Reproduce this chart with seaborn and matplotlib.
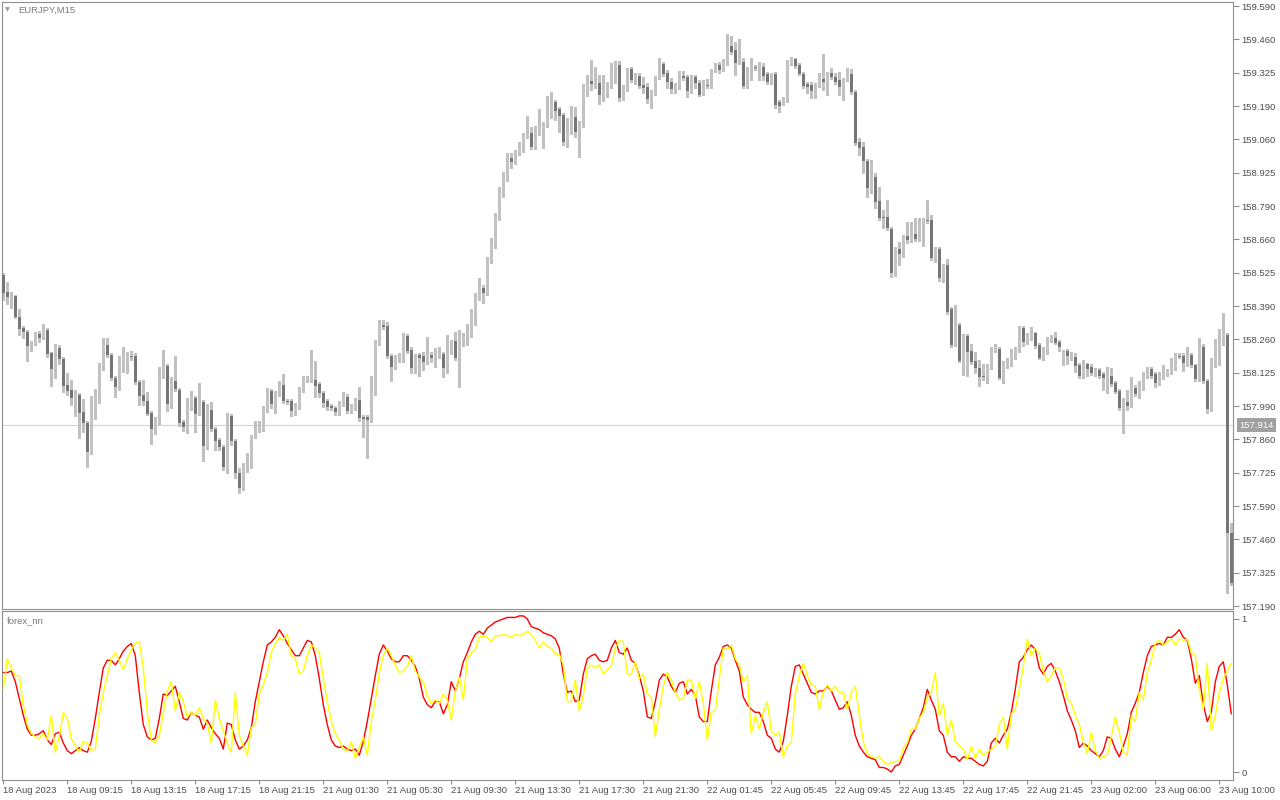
import numpy as np
import pandas as pd
import matplotlib
matplotlib.use("Agg")
import matplotlib.pyplot as plt
import matplotlib.transforms as mtransforms
import seaborn as sns

# ---------------- data ----------------
symbol_title = "EURJPY,M15"
indicator_title = "forex_nn"
last_price = 157.914

price_tick_labels = ["159.590", "159.460", "159.325", "159.190", "159.060", "158.925",
                     "158.790", "158.660", "158.525", "158.390", "158.260", "158.125",
                     "157.990", "157.860", "157.725", "157.590", "157.460", "157.325",
                     "157.190"]
indicator_tick_values = [1, 0]
indicator_tick_labels = ["1", "0"]
time_labels = ["18 Aug 2023", "18 Aug 09:15", "18 Aug 13:15", "18 Aug 17:15", "18 Aug 21:15",
               "21 Aug 01:30", "21 Aug 05:30", "21 Aug 09:30", "21 Aug 13:30", "21 Aug 17:30",
               "21 Aug 21:30", "22 Aug 01:45", "22 Aug 05:45", "22 Aug 09:45", "22 Aug 13:45",
               "22 Aug 17:45", "22 Aug 21:45", "23 Aug 02:00", "23 Aug 06:00", "23 Aug 10:00"]
bars_per_label = 16

opens = [
    158.514, 158.446, 158.426, 158.430, 158.346, 158.302, 158.286, 158.234, 158.238, 158.278,
    158.262, 158.294, 158.202, 158.134, 158.222, 158.178, 158.074, 158.054, 158.022, 158.034,
    157.966, 157.922, 157.806, 157.966, 158.006, 158.146, 158.234, 158.194, 158.102, 158.066,
    158.158, 158.186, 158.190, 158.190, 158.086, 158.034, 158.010, 157.962, 157.902, 157.922,
    158.106, 158.150, 157.998, 158.090, 158.054, 157.926, 157.906, 157.978, 158.022, 157.958,
    158.006, 157.826, 157.974, 157.898, 157.854, 157.826, 157.746, 157.950, 157.850, 157.722,
    157.662, 157.754, 157.754, 157.870, 157.894, 157.898, 157.974, 158.050, 157.998, 158.038,
    158.074, 158.010, 158.010, 157.970, 157.986, 158.054, 158.094, 158.094, 158.094, 158.078,
    158.042, 158.010, 157.990, 157.982, 157.966, 157.998, 158.026, 157.970, 157.986, 158.014,
    157.946, 157.946, 157.934, 158.042, 158.242, 158.314, 158.310, 158.190, 158.146, 158.182,
    158.182, 158.270, 158.214, 158.142, 158.194, 158.190, 158.166, 158.194, 158.182, 158.190,
    158.198, 158.142, 158.206, 158.250, 158.182, 158.246, 158.266, 158.278, 158.362, 158.422,
    158.462, 158.442, 158.574, 158.638, 158.738, 158.846, 158.898, 158.982, 158.966, 159.002,
    159.034, 159.070, 159.082, 159.026, 159.082, 159.102, 159.114, 159.150, 159.206, 159.178,
    159.154, 159.046, 159.086, 159.146, 159.086, 159.122, 159.258, 159.290, 159.270, 159.282,
    159.238, 159.246, 159.270, 159.346, 159.354, 159.222, 159.258, 159.338, 159.294, 159.310,
    159.274, 159.266, 159.218, 159.242, 159.306, 159.358, 159.322, 159.286, 159.258, 159.266,
    159.310, 159.306, 159.250, 159.306, 159.282, 159.242, 159.274, 159.270, 159.334, 159.354,
    159.338, 159.362, 159.430, 159.414, 159.362, 159.366, 159.270, 159.322, 159.346, 159.342,
    159.346, 159.318, 159.286, 159.318, 159.206, 159.202, 159.214, 159.362, 159.378, 159.354,
    159.318, 159.278, 159.274, 159.250, 159.274, 159.298, 159.286, 159.322, 159.306, 159.294,
    159.266, 159.294, 159.318, 159.246, 159.046, 159.026, 158.970, 158.854, 158.906, 158.810,
    158.746, 158.746, 158.698, 158.522, 158.618, 158.598, 158.670, 158.654, 158.678, 158.658,
    158.718, 158.734, 158.734, 158.582, 158.618, 158.502, 158.554, 158.378, 158.238, 158.314,
    158.170, 158.270, 158.210, 158.170, 158.142, 158.110, 158.106, 158.146, 158.210, 158.218,
    158.106, 158.150, 158.166, 158.202, 158.214, 158.302, 158.246, 158.270, 158.282, 158.234,
    158.182, 158.206, 158.254, 158.262, 158.246, 158.182, 158.210, 158.190, 158.186, 158.154,
    158.110, 158.158, 158.146, 158.118, 158.134, 158.118, 158.102, 158.110, 158.082, 158.050,
    157.978, 158.006, 157.998, 158.062, 158.034, 158.062, 158.110, 158.138, 158.118, 158.082,
    158.106, 158.118, 158.126, 158.142, 158.190, 158.190, 158.158, 158.194, 158.154, 158.098,
    158.226, 158.090, 157.978, 158.166, 158.226, 158.242, 158.274, 157.482]

highs = [
    158.522, 158.486, 158.446, 158.434, 158.378, 158.310, 158.294, 158.250, 158.286, 158.290,
    158.318, 158.302, 158.206, 158.238, 158.234, 158.186, 158.122, 158.094, 158.054, 158.042,
    158.018, 157.930, 158.030, 158.058, 158.162, 158.262, 158.262, 158.202, 158.110, 158.190,
    158.226, 158.206, 158.210, 158.202, 158.094, 158.094, 158.046, 157.970, 157.946, 158.146,
    158.214, 158.158, 158.106, 158.190, 158.062, 157.934, 158.022, 158.050, 158.030, 158.082,
    158.014, 157.998, 158.006, 157.906, 157.862, 157.834, 157.962, 157.958, 157.858, 157.742,
    157.762, 157.802, 157.874, 157.930, 157.930, 157.990, 158.062, 158.058, 158.050, 158.090,
    158.118, 158.018, 158.018, 158.002, 158.066, 158.110, 158.110, 158.214, 158.170, 158.086,
    158.050, 158.018, 157.998, 157.990, 158.010, 158.046, 158.038, 157.998, 158.022, 158.066,
    157.954, 157.954, 158.110, 158.254, 158.334, 158.334, 158.326, 158.198, 158.194, 158.202,
    158.282, 158.278, 158.226, 158.198, 158.202, 158.206, 158.266, 158.206, 158.222, 158.226,
    158.206, 158.274, 158.254, 158.286, 158.294, 158.282, 158.318, 158.378, 158.442, 158.502,
    158.474, 158.586, 158.662, 158.762, 158.866, 158.926, 159.002, 159.002, 159.014, 159.046,
    159.082, 159.150, 159.106, 159.110, 159.178, 159.126, 159.230, 159.246, 159.214, 159.186,
    159.162, 159.142, 159.190, 159.186, 159.130, 159.278, 159.314, 159.374, 159.346, 159.314,
    159.314, 159.286, 159.362, 159.370, 159.370, 159.274, 159.342, 159.346, 159.322, 159.322,
    159.306, 159.282, 159.254, 159.310, 159.382, 159.366, 159.334, 159.302, 159.282, 159.330,
    159.330, 159.314, 159.314, 159.314, 159.294, 159.294, 159.298, 159.338, 159.362, 159.366,
    159.378, 159.478, 159.470, 159.446, 159.458, 159.382, 159.346, 159.382, 159.354, 159.366,
    159.362, 159.326, 159.322, 159.326, 159.214, 159.226, 159.374, 159.386, 159.382, 159.362,
    159.326, 159.286, 159.286, 159.282, 159.322, 159.398, 159.326, 159.342, 159.322, 159.326,
    159.302, 159.342, 159.338, 159.254, 159.062, 159.046, 158.978, 158.974, 158.922, 158.866,
    158.774, 158.814, 158.706, 158.626, 158.646, 158.674, 158.726, 158.726, 158.742, 158.742,
    158.742, 158.814, 158.754, 158.626, 158.626, 158.558, 158.578, 158.386, 158.394, 158.322,
    158.278, 158.278, 158.238, 158.206, 158.174, 158.158, 158.158, 158.226, 158.238, 158.226,
    158.170, 158.182, 158.218, 158.226, 158.310, 158.310, 158.282, 158.306, 158.286, 158.242,
    158.226, 158.266, 158.274, 158.286, 158.254, 158.214, 158.218, 158.206, 158.202, 158.162,
    158.174, 158.162, 158.158, 158.142, 158.142, 158.126, 158.146, 158.142, 158.090, 158.058,
    158.022, 158.054, 158.106, 158.074, 158.090, 158.126, 158.146, 158.146, 158.126, 158.126,
    158.154, 158.138, 158.182, 158.202, 158.202, 158.202, 158.226, 158.202, 158.158, 158.262,
    158.238, 158.098, 158.182, 158.258, 158.298, 158.362, 158.282, 157.522]

lows = [
    158.414, 158.398, 158.382, 158.342, 158.274, 158.262, 158.170, 158.210, 158.234, 158.246,
    158.258, 158.186, 158.070, 158.102, 158.158, 158.046, 158.034, 157.994, 157.950, 157.862,
    157.886, 157.746, 157.798, 157.938, 158.002, 158.134, 158.186, 158.094, 158.026, 158.054,
    158.126, 158.122, 158.174, 158.078, 157.994, 157.994, 157.954, 157.838, 157.878, 157.918,
    158.102, 157.970, 157.982, 158.050, 157.910, 157.890, 157.882, 157.974, 157.886, 157.954,
    157.770, 157.818, 157.890, 157.814, 157.814, 157.734, 157.722, 157.834, 157.702, 157.642,
    157.654, 157.726, 157.742, 157.862, 157.886, 157.890, 157.966, 157.982, 157.962, 158.030,
    158.002, 157.998, 157.950, 157.954, 157.978, 158.046, 158.086, 158.086, 158.026, 158.026,
    157.986, 157.974, 157.974, 157.954, 157.954, 157.990, 157.962, 157.962, 157.974, 157.930,
    157.866, 157.782, 157.926, 158.034, 158.234, 158.298, 158.182, 158.090, 158.138, 158.166,
    158.166, 158.202, 158.122, 158.122, 158.110, 158.134, 158.158, 158.166, 158.146, 158.182,
    158.106, 158.122, 158.198, 158.174, 158.066, 158.230, 158.234, 158.266, 158.314, 158.414,
    158.402, 158.434, 158.562, 158.622, 158.734, 158.826, 158.890, 158.942, 158.958, 158.994,
    159.006, 159.062, 159.018, 159.018, 159.074, 159.022, 159.106, 159.142, 159.134, 159.086,
    159.034, 159.026, 159.078, 159.066, 158.986, 159.106, 159.230, 159.254, 159.262, 159.198,
    159.210, 159.226, 159.262, 159.282, 159.210, 159.214, 159.250, 159.286, 159.278, 159.262,
    159.242, 159.202, 159.182, 159.234, 159.298, 159.310, 159.262, 159.242, 159.242, 159.258,
    159.294, 159.226, 159.242, 159.262, 159.230, 159.234, 159.262, 159.262, 159.326, 159.322,
    159.330, 159.354, 159.398, 159.314, 159.358, 159.262, 159.262, 159.294, 159.334, 159.294,
    159.294, 159.278, 159.278, 159.182, 159.166, 159.194, 159.206, 159.354, 159.342, 159.314,
    159.262, 159.242, 159.222, 159.222, 159.266, 159.254, 159.234, 159.298, 159.278, 159.234,
    159.214, 159.290, 159.238, 159.034, 158.994, 158.922, 158.826, 158.842, 158.782, 158.734,
    158.702, 158.694, 158.506, 158.510, 158.554, 158.586, 158.642, 158.646, 158.650, 158.650,
    158.630, 158.722, 158.574, 158.566, 158.490, 158.486, 158.358, 158.226, 158.230, 158.166,
    158.114, 158.110, 158.158, 158.122, 158.070, 158.094, 158.082, 158.138, 158.206, 158.098,
    158.082, 158.142, 158.150, 158.178, 158.206, 158.230, 158.238, 158.254, 158.222, 158.178,
    158.174, 158.198, 158.246, 158.238, 158.210, 158.154, 158.158, 158.174, 158.126, 158.102,
    158.102, 158.110, 158.114, 158.110, 158.102, 158.054, 158.042, 158.070, 158.042, 157.974,
    157.882, 157.974, 157.986, 158.030, 158.022, 158.054, 158.102, 158.102, 158.066, 158.074,
    158.098, 158.110, 158.118, 158.134, 158.182, 158.130, 158.150, 158.146, 158.090, 158.090,
    158.082, 157.962, 157.970, 158.146, 158.154, 158.234, 157.242, 157.274]

closes = [
    158.442, 158.426, 158.430, 158.346, 158.298, 158.286, 158.230, 158.238, 158.278, 158.262,
    158.294, 158.198, 158.138, 158.226, 158.178, 158.070, 158.050, 158.022, 158.038, 157.962,
    157.922, 157.806, 157.974, 158.010, 158.150, 158.230, 158.194, 158.102, 158.066, 158.162,
    158.190, 158.190, 158.186, 158.086, 158.030, 158.010, 157.958, 157.898, 157.926, 158.106,
    158.150, 157.998, 158.090, 158.058, 157.922, 157.906, 157.982, 158.022, 157.958, 158.006,
    157.830, 157.970, 157.898, 157.850, 157.826, 157.746, 157.950, 157.850, 157.722, 157.662,
    157.754, 157.758, 157.870, 157.898, 157.906, 157.982, 158.046, 157.998, 158.042, 158.074,
    158.010, 158.006, 157.970, 157.986, 158.058, 158.098, 158.102, 158.158, 158.070, 158.042,
    158.002, 157.986, 157.982, 157.966, 157.998, 158.034, 157.970, 157.990, 158.014, 157.942,
    157.938, 157.934, 158.046, 158.242, 158.314, 158.306, 158.190, 158.146, 158.186, 158.186,
    158.270, 158.210, 158.142, 158.190, 158.182, 158.166, 158.194, 158.182, 158.194, 158.198,
    158.142, 158.206, 158.246, 158.182, 158.246, 158.266, 158.278, 158.366, 158.426, 158.462,
    158.442, 158.574, 158.638, 158.742, 158.850, 158.902, 158.982, 158.966, 159.006, 159.038,
    159.074, 159.082, 159.026, 159.086, 159.106, 159.118, 159.158, 159.206, 159.170, 159.150,
    159.046, 159.086, 159.150, 159.086, 159.122, 159.262, 159.286, 159.278, 159.282, 159.234,
    159.250, 159.274, 159.346, 159.354, 159.222, 159.262, 159.338, 159.294, 159.310, 159.270,
    159.262, 159.218, 159.246, 159.306, 159.362, 159.318, 159.286, 159.258, 159.274, 159.326,
    159.302, 159.250, 159.306, 159.282, 159.234, 159.274, 159.270, 159.338, 159.354, 159.334,
    159.366, 159.438, 159.406, 159.362, 159.366, 159.270, 159.326, 159.342, 159.342, 159.350,
    159.310, 159.286, 159.318, 159.194, 159.190, 159.214, 159.362, 159.378, 159.350, 159.318,
    159.270, 159.266, 159.250, 159.274, 159.302, 159.286, 159.318, 159.306, 159.286, 159.266,
    159.294, 159.322, 159.246, 159.042, 159.022, 158.970, 158.862, 158.906, 158.806, 158.742,
    158.742, 158.702, 158.522, 158.618, 158.598, 158.666, 158.654, 158.682, 158.658, 158.718,
    158.734, 158.730, 158.582, 158.618, 158.502, 158.554, 158.366, 158.234, 158.310, 158.170,
    158.270, 158.206, 158.166, 158.142, 158.106, 158.106, 158.146, 158.214, 158.218, 158.102,
    158.162, 158.170, 158.206, 158.214, 158.302, 158.246, 158.274, 158.282, 158.230, 158.182,
    158.210, 158.258, 158.266, 158.242, 158.226, 158.206, 158.190, 158.194, 158.150, 158.110,
    158.158, 158.138, 158.122, 158.134, 158.110, 158.102, 158.114, 158.078, 158.046, 157.982,
    158.002, 157.990, 158.062, 158.038, 158.066, 158.110, 158.138, 158.110, 158.082, 158.114,
    158.118, 158.130, 158.146, 158.190, 158.186, 158.162, 158.190, 158.154, 158.098, 158.226,
    158.090, 157.978, 158.166, 158.230, 158.242, 158.278, 157.482, 157.282]

nn_red = [
    0.65, 0.65, 0.66, 0.59, 0.48, 0.37, 0.28, 0.24, 0.24, 0.25,
    0.27, 0.21, 0.18, 0.25, 0.26, 0.19, 0.14, 0.12, 0.14, 0.16,
    0.14, 0.13, 0.20, 0.35, 0.52, 0.68, 0.73, 0.73, 0.70, 0.74,
    0.79, 0.82, 0.84, 0.76, 0.52, 0.31, 0.23, 0.21, 0.22, 0.35,
    0.51, 0.50, 0.53, 0.56, 0.46, 0.35, 0.34, 0.39, 0.37, 0.36,
    0.28, 0.34, 0.29, 0.25, 0.22, 0.15, 0.32, 0.31, 0.21, 0.15,
    0.17, 0.21, 0.29, 0.46, 0.59, 0.72, 0.83, 0.85, 0.88, 0.93,
    0.89, 0.84, 0.80, 0.76, 0.76, 0.81, 0.86, 0.85, 0.76, 0.61,
    0.44, 0.31, 0.21, 0.17, 0.16, 0.17, 0.15, 0.14, 0.15, 0.11,
    0.20, 0.33, 0.48, 0.63, 0.77, 0.83, 0.79, 0.74, 0.72, 0.72,
    0.76, 0.76, 0.73, 0.69, 0.61, 0.49, 0.44, 0.42, 0.46, 0.46,
    0.38, 0.44, 0.59, 0.53, 0.61, 0.72, 0.78, 0.85, 0.90, 0.92,
    0.90, 0.94, 0.96, 0.98, 0.99, 1.00, 1.01, 1.01, 1.01, 1.02,
    1.02, 1.00, 0.95, 0.94, 0.93, 0.91, 0.90, 0.89, 0.87, 0.81,
    0.64, 0.52, 0.53, 0.46, 0.47, 0.64, 0.74, 0.76, 0.77, 0.73,
    0.72, 0.73, 0.81, 0.86, 0.78, 0.77, 0.81, 0.73, 0.71, 0.63,
    0.53, 0.36, 0.35, 0.46, 0.60, 0.64, 0.62, 0.56, 0.52, 0.58,
    0.59, 0.51, 0.54, 0.50, 0.36, 0.33, 0.33, 0.53, 0.70, 0.75,
    0.82, 0.83, 0.81, 0.73, 0.66, 0.49, 0.44, 0.41, 0.39, 0.39,
    0.33, 0.24, 0.22, 0.15, 0.13, 0.20, 0.37, 0.56, 0.69, 0.70,
    0.64, 0.58, 0.52, 0.51, 0.53, 0.53, 0.56, 0.53, 0.47, 0.41,
    0.42, 0.46, 0.37, 0.24, 0.17, 0.13, 0.10, 0.09, 0.08, 0.03,
    0.03, 0.02, 0.00, 0.04, 0.05, 0.11, 0.17, 0.24, 0.28, 0.35,
    0.42, 0.54, 0.47, 0.41, 0.27, 0.24, 0.13, 0.10, 0.10, 0.07,
    0.10, 0.09, 0.09, 0.07, 0.05, 0.04, 0.07, 0.19, 0.22, 0.19,
    0.24, 0.28, 0.39, 0.54, 0.72, 0.75, 0.80, 0.83, 0.80, 0.68,
    0.64, 0.69, 0.71, 0.66, 0.59, 0.50, 0.40, 0.34, 0.27, 0.16,
    0.19, 0.17, 0.14, 0.12, 0.10, 0.14, 0.23, 0.22, 0.15, 0.10,
    0.17, 0.25, 0.39, 0.45, 0.52, 0.65, 0.76, 0.82, 0.83, 0.84,
    0.83, 0.88, 0.88, 0.90, 0.93, 0.88, 0.86, 0.74, 0.58, 0.63,
    0.44, 0.33, 0.39, 0.59, 0.69, 0.72, 0.57, 0.38]

nn_yellow = [
    0.54, 0.74, 0.68, 0.63, 0.63, 0.44, 0.31, 0.25, 0.23, 0.22,
    0.25, 0.21, 0.37, 0.13, 0.23, 0.39, 0.35, 0.22, 0.17, 0.13,
    0.20, 0.19, 0.14, 0.15, 0.37, 0.52, 0.63, 0.74, 0.78, 0.73,
    0.67, 0.74, 0.80, 0.84, 0.85, 0.68, 0.39, 0.21, 0.19, 0.24,
    0.39, 0.53, 0.59, 0.40, 0.52, 0.46, 0.36, 0.39, 0.37, 0.42,
    0.35, 0.32, 0.19, 0.47, 0.35, 0.27, 0.19, 0.13, 0.52, 0.24,
    0.17, 0.11, 0.29, 0.31, 0.51, 0.57, 0.65, 0.78, 0.84, 0.88,
    0.86, 0.90, 0.76, 0.74, 0.64, 0.66, 0.76, 0.83, 0.81, 0.78,
    0.61, 0.46, 0.33, 0.25, 0.21, 0.15, 0.14, 0.20, 0.09, 0.16,
    0.23, 0.11, 0.33, 0.47, 0.65, 0.76, 0.81, 0.76, 0.70, 0.65,
    0.66, 0.69, 0.76, 0.66, 0.62, 0.59, 0.50, 0.45, 0.47, 0.45,
    0.51, 0.47, 0.34, 0.53, 0.62, 0.47, 0.74, 0.78, 0.80, 0.88,
    0.89, 0.88, 0.85, 0.89, 0.89, 0.90, 0.89, 0.88, 0.90, 0.89,
    0.90, 0.92, 0.90, 0.86, 0.81, 0.85, 0.82, 0.81, 0.77, 0.77,
    0.70, 0.46, 0.46, 0.60, 0.40, 0.50, 0.68, 0.70, 0.68, 0.70,
    0.64, 0.67, 0.69, 0.81, 0.86, 0.85, 0.64, 0.64, 0.72, 0.61,
    0.64, 0.51, 0.49, 0.23, 0.41, 0.56, 0.65, 0.60, 0.52, 0.47,
    0.48, 0.60, 0.60, 0.48, 0.59, 0.45, 0.21, 0.39, 0.40, 0.61,
    0.81, 0.80, 0.83, 0.74, 0.70, 0.59, 0.63, 0.25, 0.37, 0.28,
    0.39, 0.46, 0.27, 0.24, 0.26, 0.10, 0.17, 0.19, 0.51, 0.63,
    0.71, 0.63, 0.57, 0.56, 0.41, 0.52, 0.57, 0.53, 0.56, 0.52,
    0.52, 0.41, 0.52, 0.56, 0.37, 0.20, 0.12, 0.10, 0.09, 0.10,
    0.07, 0.05, 0.06, 0.07, 0.07, 0.16, 0.19, 0.28, 0.28, 0.35,
    0.39, 0.49, 0.52, 0.65, 0.37, 0.45, 0.24, 0.34, 0.20, 0.17,
    0.15, 0.08, 0.17, 0.09, 0.15, 0.11, 0.13, 0.15, 0.17, 0.31,
    0.36, 0.15, 0.38, 0.41, 0.54, 0.69, 0.87, 0.76, 0.81, 0.78,
    0.66, 0.59, 0.63, 0.68, 0.68, 0.61, 0.48, 0.45, 0.37, 0.31,
    0.20, 0.12, 0.26, 0.14, 0.09, 0.10, 0.11, 0.23, 0.36, 0.26,
    0.13, 0.11, 0.37, 0.33, 0.52, 0.47, 0.65, 0.73, 0.84, 0.86,
    0.83, 0.85, 0.87, 0.83, 0.87, 0.86, 0.87, 0.78, 0.76, 0.54,
    0.41, 0.71, 0.27, 0.37, 0.52, 0.61, 0.66, 0.71]

# ---------------- styling ----------------
sns.set_theme(style="white")
plt.rcParams['font.family'] = ['Liberation Sans', 'DejaVu Sans']

BULL = "#c3c3c3"
BEAR = "#767676"
WICK = "#c0c0c0"
SPINE = "#8f8f8f"
LABEL = "#4d4d4d"
TITLE = "#7a7a7a"
FS = 6.8

W, H = 1280, 800
fig = plt.figure(figsize=(W / 100, H / 100), dpi=100)
fig.patch.set_facecolor("white")


def px_rect(x0, y0, x1, y1):
    return [x0 / W, 1 - y1 / H, (x1 - x0) / W, (y1 - y0) / H]


ax = fig.add_axes(px_rect(2, 2, 1233, 609))
ax2 = fig.add_axes(px_rect(2, 611, 1233, 780))

o = np.array(opens)
h = np.array(highs)
l = np.array(lows)
c = np.array(closes)
n = len(c)
xb = np.arange(n)
bull = c >= o
lo = np.minimum(o, c)
ht = np.maximum(np.abs(c - o), 0.004)

xlim = (-0.325, n - 1 + 0.425)

# candles
ax.vlines(xb, l, h, colors=WICK, linewidth=0.8, antialiased=False, zorder=2)
ax.bar(xb[bull], ht[bull], bottom=lo[bull], width=0.8, color=BULL,
       linewidth=0, antialiased=False, zorder=3)
ax.bar(xb[~bull], ht[~bull], bottom=lo[~bull], width=0.8, color=BEAR,
       linewidth=0, antialiased=False, zorder=3)
ax.axhline(last_price, color="#d4d4d4", linewidth=0.8, zorder=1)

ax.set_xlim(*xlim)
ax.set_ylim(157.178, 159.606)
ax.set_facecolor("white")
ax.yaxis.tick_right()
ax.set_yticks(np.linspace(159.590, 157.190, len(price_tick_labels)))
ax.set_yticklabels(price_tick_labels)
ax.set_xticks([])
ax.tick_params(axis="y", which="major", direction="out", length=4, width=0.8,
               color=SPINE, pad=2, labelsize=FS, labelcolor=LABEL, right=True, left=False)
for s in ax.spines.values():
    s.set_color(SPINE)
    s.set_linewidth(0.8)

trans = mtransforms.blended_transform_factory(ax.transAxes, ax.transData)
ax.annotate(f"{last_price:.3f}", xy=(1, last_price), xycoords=trans,
            xytext=(6, 0), textcoords="offset pixels", ha="left", va="center",
            fontsize=FS, color="white", annotation_clip=False,
            bbox=dict(boxstyle="square,pad=0.25", fc="#a0a0a0", ec="none"))

# indicator panel
ind = pd.DataFrame({"bar": xb, "red": nn_red, "yellow": nn_yellow})
sns.lineplot(data=ind, x="bar", y="red", ax=ax2, color="#ff0000", linewidth=1.0, zorder=3)
sns.lineplot(data=ind, x="bar", y="yellow", ax=ax2, color="#ffff00", linewidth=1.0, zorder=4)
ax2.set_xlabel("")
ax2.set_ylabel("")
ax2.set_xlim(*xlim)
ax2.set_ylim(-0.052, 1.052)
ax2.set_facecolor("white")
ax2.yaxis.tick_right()
ax2.set_yticks(indicator_tick_values)
ax2.set_yticklabels(indicator_tick_labels)
ax2.set_xticks(np.arange(0, n, bars_per_label)[:len(time_labels)])
ax2.set_xticklabels(time_labels, ha="left")
ax2.tick_params(axis="y", direction="out", length=4, width=0.8, color=SPINE, pad=2,
                labelsize=FS, labelcolor=LABEL, right=True, left=False)
ax2.tick_params(axis="x", direction="out", length=3, width=0.8, color=SPINE, pad=1.5,
                labelsize=FS, labelcolor=LABEL, bottom=True)
for s in ax2.spines.values():
    s.set_color(SPINE)
    s.set_linewidth(0.8)

# titles
fig.text(18 / W, 1 - 10 / H, symbol_title, fontsize=FS, color=TITLE, ha="left", va="center")
fig.text(7 / W, 1 - 9.5 / H, "\u25BC", fontsize=4.5, color="#9a9a9a", ha="center", va="center",
         family=["DejaVu Sans"])
fig.text(7 / W, 1 - 621 / H, indicator_title, fontsize=FS, color=TITLE, ha="left", va="center")

fig.savefig("out.png", dpi=100, facecolor="white")
